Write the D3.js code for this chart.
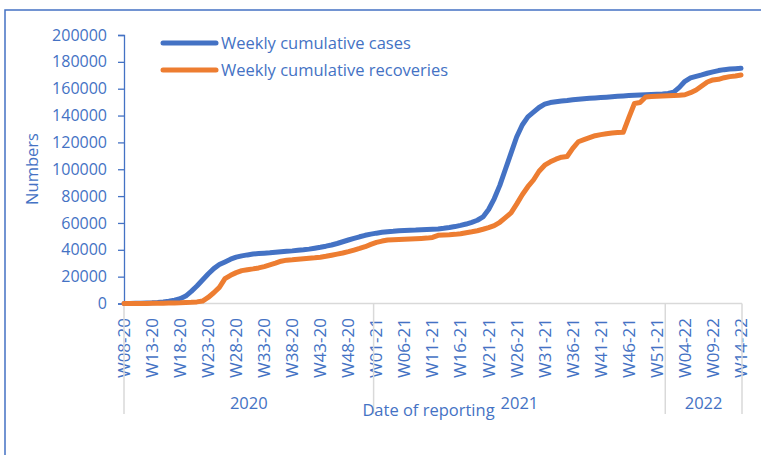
<!DOCTYPE html>
<html>
<head>
<meta charset="utf-8">
<script src="https://cdn.jsdelivr.net/npm/d3@7"></script>
<style>
  body { margin: 0; background: #fff; }
  svg { display: block; font-family: "Open Sans", sans-serif; }
</style>
</head>
<body>
<div id="chart"></div>
<script>
// size of the page
const width = 761;
const height = 455;

// plot area
const plotLeft = 124, plotRight = 741, plotTop = 35, plotBottom = 303.5;

// colours
const blue = "#4472C4";
const orange = "#ED7D31";
const grey = "#D9D9D9";
const textBlue = "#4472C4";

// categories: reporting weeks, grouped by year
const years = ["2020", "2021", "2022"];
const firstWeek = [8, 1, 1];
const lastWeek = [52, 52, 14];
const weeks = [];
years.forEach((yr, k) => {
  for (let w = firstWeek[k]; w <= lastWeek[k]; w++) {
    weeks.push(`W${String(w).padStart(2, "0")}-${yr.slice(2)}`);
  }
});

// series values, one per week
const cases = [
  0, 50, 100, 200, 350, 500, 800, 1200, 1700, 2500,
  3500, 5500, 9000, 13000, 17500, 22000, 26000, 29000, 31000, 33000,
  34500, 35500, 36200, 36800, 37200, 37500, 37800, 38200, 38600, 38900,
  39200, 39600, 40000, 40500, 41200, 41900, 42700, 43600, 44700, 46000,
  47300, 48500, 49700, 50800, 51700, 52400, 53000, 53500, 53800, 54200,
  54400, 54600, 54700, 54900, 55100, 55300, 55500, 56000, 56600, 57300,
  58200, 59200, 60500, 62000, 64500, 70000, 78000, 88000, 100000, 112000,
  124000, 133000, 139000, 142500, 146000, 148500, 149700, 150300, 150800, 151200,
  151700, 152100, 152500, 152800, 153100, 153400, 153700, 154000, 154300, 154600,
  154900, 155100, 155300, 155500, 155700, 155900, 156100, 156400, 157500, 161000,
  165500, 168000, 169200, 170300, 171500, 172500, 173500, 174200, 174600, 174900,
  175200
];
const recoveries = [
  0, 0, 0, 0, 50, 100, 150, 200, 300, 400,
  500, 700, 900, 1200, 1800, 4500, 8000, 12000, 18500, 21000,
  23000, 24500, 25200, 25800, 26500, 27500, 28700, 30000, 31500, 32300,
  32600, 33000, 33400, 33700, 34000, 34500, 35200, 36000, 36800, 37600,
  38600, 39800, 41000, 42300, 44000, 45500, 46500, 47300, 47500, 47700,
  47900, 48100, 48300, 48500, 48700, 49200, 50800, 51000, 51200, 51500,
  52000, 52700, 53400, 54200, 55300, 56500, 58000, 60500, 64000, 67500,
  74000, 81000, 87000, 92000, 98500, 103000, 105500, 107500, 109000, 109500,
  115500, 120500, 122000, 123500, 125000, 125800, 126500, 127000, 127300, 127500,
  138500, 149000, 149700, 153800, 154200, 154400, 154600, 154800, 155000, 155200,
  155500, 157000, 159000, 162000, 165000, 166500, 167000, 168200, 169000, 169500,
  170200
];

const series = [
  { name: "Weekly cumulative cases", values: cases, color: blue },
  { name: "Weekly cumulative recoveries", values: recoveries, color: orange }
];

const yTicks = [0, 20000, 40000, 60000, 80000, 100000, 120000, 140000, 160000, 180000, 200000];

const svg = d3.select("#chart")
  .append("svg")
    .attr("width", width)
    .attr("height", height);

// outer frame
svg.append("rect")
  .attr("x", 5).attr("y", 10)
  .attr("width", 900).attr("height", 600)
  .attr("fill", "none")
  .attr("stroke", blue)
  .attr("stroke-width", 1.5);

// scales
const x = d3.scalePoint().domain(weeks).range([plotLeft, plotRight]);
const y = d3.scaleLinear().domain([0, 200000]).range([plotBottom, plotTop]);

// y axis
svg.append("g")
  .attr("transform", `translate(${plotLeft},0)`)
  .call(d3.axisLeft(y).tickValues(yTicks).tickFormat(d3.format("d")).tickSize(6).tickPadding(11))
  .call(g => g.select(".domain").attr("stroke", blue).attr("stroke-width", 1.3))
  .call(g => g.selectAll(".tick line").attr("stroke", blue).attr("stroke-width", 1.3))
  .call(g => g.selectAll(".tick text").attr("fill", textBlue).attr("font-size", 16).attr("font-family", "Open Sans"));

// x axis: week labels
const shownWeeks = weeks.filter((d, i) => i % 5 === 0);
svg.append("line")
  .attr("x1", plotLeft).attr("x2", plotRight + 1)
  .attr("y1", plotBottom).attr("y2", plotBottom)
  .attr("stroke", grey).attr("stroke-width", 1.5);

svg.append("g")
  .selectAll("text")
  .data(shownWeeks)
  .join("text")
    .attr("transform", d => `translate(${x(d)},318)rotate(-90)`)
    .attr("dy", "0.35em")
    .attr("text-anchor", "end")
    .attr("fill", textBlue)
    .attr("font-size", 17)
    .text(d => d);

// year groups with separators
const step = x.step();
const groupEdges = [plotLeft];
let count = 0;
years.forEach((yr, k) => {
  count += lastWeek[k] - firstWeek[k] + 1;
  groupEdges.push(k === years.length - 1 ? plotRight + 1 : plotLeft + (count - 0.5) * step);
});

svg.append("g")
  .selectAll("line")
  .data(groupEdges)
  .join("line")
    .attr("x1", d => d).attr("x2", d => d)
    .attr("y1", plotBottom).attr("y2", 414)
    .attr("stroke", grey).attr("stroke-width", 1.5);

svg.append("g")
  .selectAll("text")
  .data(years)
  .join("text")
    .attr("x", (d, k) => (groupEdges[k] + groupEdges[k + 1]) / 2)
    .attr("y", 403)
    .attr("dy", "0.35em")
    .attr("text-anchor", "middle")
    .attr("fill", textBlue)
    .attr("font-size", 16.5)
    .text(d => d);

// axis titles
svg.append("text")
  .attr("x", (plotLeft + plotRight) / 2 - 4)
  .attr("y", 410)
  .attr("dy", "0.35em")
  .attr("text-anchor", "middle")
  .attr("fill", textBlue)
  .attr("font-size", 16.5)
  .text("Date of reporting");

svg.append("text")
  .attr("transform", `translate(32,169)rotate(-90)`)
  .attr("dy", "0.35em")
  .attr("text-anchor", "middle")
  .attr("fill", textBlue)
  .attr("font-size", 16.5)
  .text("Numbers");

// lines
const line = d3.line()
  .x((d, i) => x(weeks[i]))
  .y(d => y(d));

svg.append("g")
  .selectAll("path")
  .data(series)
  .join("path")
    .attr("fill", "none")
    .attr("stroke", d => d.color)
    .attr("stroke-width", 5)
    .attr("stroke-linejoin", "round")
    .attr("stroke-linecap", "round")
    .attr("d", d => line(d.values));

// legend
const legend = svg.append("g")
  .selectAll("g")
  .data(series)
  .join("g")
    .attr("transform", (d, i) => `translate(163,${43 + i * 27})`);

legend.append("line")
  .attr("x1", 0).attr("x2", 53)
  .attr("stroke", d => d.color)
  .attr("stroke-width", 5)
  .attr("stroke-linecap", "round");

legend.append("text")
  .attr("x", 58)
  .attr("dy", "0.35em")
  .attr("fill", textBlue)
  .attr("font-size", 16.5)
  .text(d => d.name);
</script>
</body>
</html>
